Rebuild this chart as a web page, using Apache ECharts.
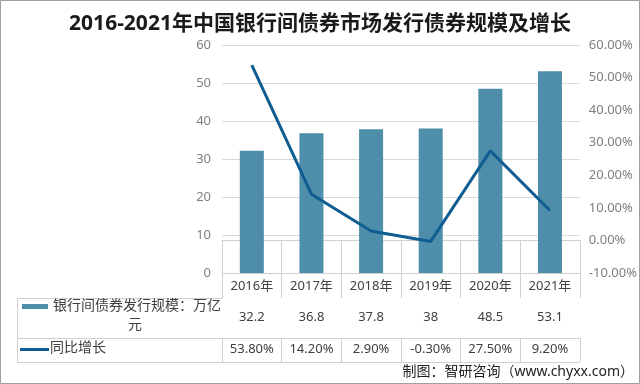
<!DOCTYPE html>
<html><head><meta charset="utf-8">
<script src="https://cdn.jsdelivr.net/npm/echarts@6/dist/echarts.min.js"></script>
<style>html,body{margin:0;padding:0;background:#fff}#c{width:640px;height:384px}</style>
</head><body><div id="c"></div>
<script>
const categories = ['2016年','2017年','2018年','2019年','2020年','2021年'];
const scaleValues = [32.2, 36.8, 37.8, 38, 48.5, 53.1];
const growthValues = [53.8, 14.2, 2.9, -0.3, 27.5, 9.2];
const barName = '银行间债券发行规模：万亿元';
const lineName = '同比增长';

const F = '"Noto Sans", "Noto Sans CJK SC", sans-serif';
const gridC = '#d9d9d9';
const tableC = '#d0d0d0';
const chart = echarts.init(document.getElementById('c'));
const L = 222, R = 585, B = 273;
function axisRow(offset, tickLen, labels, margin, showLabel) {
  return {
    type: 'category', data: categories, position: 'bottom', offset: offset,
    axisLine: {show: true, lineStyle: {color: tableC}},
    axisTick: {show: tickLen > 0, interval: 0, length: tickLen, lineStyle: {color: tableC}},
    axisLabel: {show: showLabel, interval: 0, hideOverlap: false, margin: margin, fontFamily: F, fontSize: 13, color: '#404040',
      formatter: (v) => labels[categories.indexOf(v)]}
  };
}
chart.setOption({
  animation: false,
  backgroundColor: '#fff',
  title: {text: '2016-2021年中国银行间债券市场发行债券规模及增长', left: 'center', top: 9,
    textStyle: {fontFamily: F, fontSize: 21, fontWeight: 'bold', color: '#1a1a1a'}},
  grid: {left: L, right: 640 - R, top: 45, bottom: 384 - B},
  xAxis: [
    axisRow(0, 25, categories, 7, true),
    axisRow(25, 40, scaleValues.map(String), 13, true),
    axisRow(65, 24, growthValues.map(v => v.toFixed(2) + '%'), 5, true),
    axisRow(89, 0, categories, 0, false)
  ],
  yAxis: [
    {type: 'value', min: 0, max: 60, interval: 10,
      axisLine: {show: false}, axisTick: {show: false},
      splitLine: {lineStyle: {color: gridC}},
      axisLabel: {margin: 11, fontFamily: F, fontSize: 13, color: '#7f7f7f'}},
    {type: 'value', min: -10, max: 60, interval: 10,
      axisLine: {show: false}, axisTick: {show: false}, splitLine: {show: false},
      axisLabel: {margin: 9, fontFamily: F, fontSize: 13, color: '#7f7f7f',
        formatter: v => v.toFixed(2) + '%'}}
  ],
  series: [
    {name: barName, type: 'bar', data: scaleValues, barWidth: 24, itemStyle: {color: '#4e8eaa'}},
    {name: lineName, type: 'line', yAxisIndex: 1, data: growthValues, symbol: 'none',
      lineStyle: {width: 3, color: '#105d91'}, itemStyle: {color: '#105d91'}}
  ],
  graphic: [
    {type: 'rect', shape: {x: 0.5, y: 0.5, width: 639, height: 383}, style: {fill: null, stroke: '#a0a0a0', lineWidth: 1}},
    {type: 'line', shape: {x1: 17, y1: 298.5, x2: L, y2: 298.5}, style: {stroke: tableC, lineWidth: 1}},
    {type: 'line', shape: {x1: 17, y1: 338.5, x2: L, y2: 338.5}, style: {stroke: tableC, lineWidth: 1}},
    {type: 'line', shape: {x1: 17, y1: 362.5, x2: L, y2: 362.5}, style: {stroke: tableC, lineWidth: 1}},
    {type: 'line', shape: {x1: 17.5, y1: 298, x2: 17.5, y2: 362}, style: {stroke: tableC, lineWidth: 1}},
    {type: 'rect', shape: {x: 22, y: 304, width: 26, height: 5}, style: {fill: '#4e8eaa'}},
    {type: 'text', left: 53, top: 299, style: {text: '银行间债券发行规模：万亿', font: '14px ' + F, fill: '#404040'}},
    {type: 'text', left: 128, top: 318, style: {text: '元', font: '14px ' + F, fill: '#404040'}},
    {type: 'rect', shape: {x: 20, y: 348, width: 29, height: 3}, style: {fill: '#105d91'}},
    {type: 'text', left: 50, top: 341, style: {text: lineName, font: '14px ' + F, fill: '#404040'}},
    {type: 'text', right: 6, top: 365, style: {text: '制图：智研咨询（www.chyxx.com）', font: '14px ' + F, fill: '#222'}}
  ]
});
</script></body></html>
